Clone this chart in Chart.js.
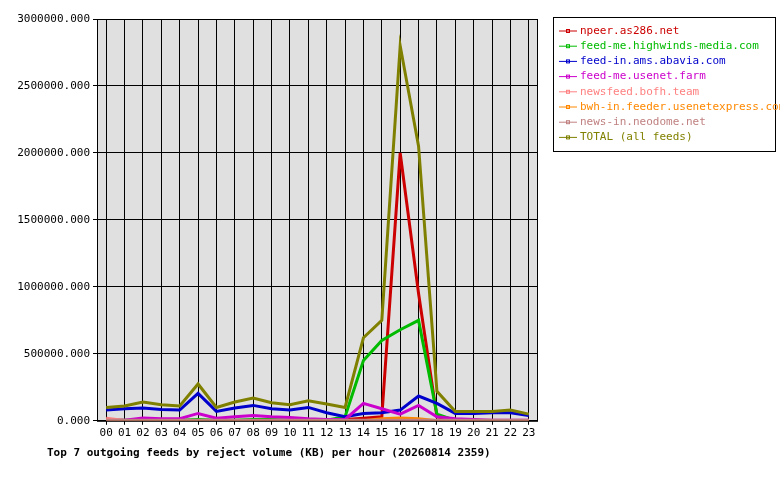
<!DOCTYPE html>
<html><head><meta charset="utf-8">
<script src="https://cdn.jsdelivr.net/npm/chart.js@4/dist/chart.umd.min.js"></script>
<style>html,body{margin:0;padding:0;background:#fff}#w{width:780px;height:480px}</style>
</head><body><div id="w"><canvas id="c"></canvas></div>
<script>
const hours = ["00","01","02","03","04","05","06","07","08","09","10","11","12","13","14","15","16","17","18","19","20","21","22","23"];
const seriesNames = ["npeer.as286.net","feed-me.highwinds-media.com","feed-in.ams.abavia.com","feed-me.usenet.farm","newsfeed.bofh.team","bwh-in.feeder.usenetexpress.com","news-in.neodome.net","TOTAL (all feeds)"];
const seriesColors = ["#cc0000","#00bb00","#0000cc","#cc00cc","#ff8080","#ff8800","#c08080","#808000"];
const npeer    = [0,0,0,0,0,0,0,0,0,0,0,0,10000,10000,20000,30000,2000000,950000,30000,0,0,0,0,0];
const highwinds= [5000,5000,5000,5000,5000,10000,5000,5000,10000,10000,5000,5000,5000,30000,450000,600000,680000,750000,50000,2000,2000,2000,2000,2000];
const abavia   = [80000,90000,95000,85000,80000,205000,70000,95000,115000,90000,80000,100000,60000,30000,55000,60000,80000,185000,130000,55000,55000,60000,60000,40000];
const usenetFarm=[5000,5000,20000,15000,15000,55000,20000,30000,40000,30000,25000,15000,10000,10000,130000,90000,50000,115000,30000,15000,10000,5000,5000,5000];
const bofh     = [20000,2000,2000,2000,2000,2000,2000,2000,2000,2000,2000,2000,2000,2000,2000,2000,2000,2000,2000,2000,2000,2000,2000,2000];
const bwh      = [0,0,0,0,0,0,0,0,0,0,0,0,0,0,0,15000,20000,15000,0,0,0,0,0,0];
const neodome  = [5000,5000,5000,5000,5000,5000,5000,5000,5000,5000,5000,5000,5000,5000,5000,5000,5000,5000,5000,5000,5000,5000,5000,5000];
const total    = [100000,110000,140000,120000,110000,275000,100000,140000,170000,135000,120000,150000,125000,100000,620000,750000,2800000,2050000,220000,70000,70000,70000,80000,50000];
const allData = [npeer,highwinds,abavia,usenetFarm,bofh,bwh,neodome,total];
const FONT = "'DejaVu Sans Mono', monospace";

const bgPlugin = {id:'bg', beforeDraw(ch){const a=ch.chartArea,c=ch.ctx;c.save();c.fillStyle='#e0e0e0';c.fillRect(a.left,a.top,a.right-a.left,a.bottom-a.top);c.restore();},
 afterDraw(ch){const a=ch.chartArea,c=ch.ctx;c.save();c.strokeStyle='#000';c.lineWidth=1;c.strokeRect(a.left+0.5,a.top+0.5,a.right-a.left-1,a.bottom-a.top);
  // legend box
  const x=553,y=17,w=222,h=134;c.fillStyle='#fff';c.fillRect(x,y,w,h);c.strokeRect(x+0.5,y+0.5,w,h);
  c.font='11px '+FONT;c.textBaseline='middle';
  ch.data.datasets.forEach((d,i)=>{const yy=y+14+i*15.2;c.strokeStyle=d.borderColor;c.beginPath();c.moveTo(x+6,yy);c.lineTo(x+24,yy);c.stroke();c.strokeRect(x+13.5,yy-1.5,3,3);c.fillStyle=d.borderColor;c.fillText(d.label,x+27,yy);});
  c.fillStyle='#000';c.font='bold 11px '+FONT;c.textBaseline='alphabetic';c.fillText('Top 7 outgoing feeds by reject volume (KB) per hour (20260814 2359)',47,456);
  c.restore();}};

new Chart(document.getElementById('c'),{type:'line',
 data:{labels:hours,datasets:allData.map((d,i)=>({label:seriesNames[i],data:d,borderColor:seriesColors[i],backgroundColor:seriesColors[i],borderWidth:3,pointRadius:0,tension:0,order:-i}))},
 options:{responsive:true,maintainAspectRatio:false,animation:false,
  layout:{padding:{left:0,right:242,top:19,bottom:38}},
  plugins:{legend:{display:false},tooltip:{enabled:false}},
  scales:{
   x:{offset:true,grid:{offset:false,color:'#000',drawTicks:true,tickLength:4},border:{display:false},ticks:{color:'#000',font:{family:FONT,size:11},maxRotation:0,autoSkip:false,padding:2}},
   y:{min:0,max:3000000,afterFit(s){s.width=97;},grid:{color:'#000',tickLength:4},border:{display:false},ticks:{stepSize:500000,color:'#000',font:{family:FONT,size:11},callback:v=>v.toFixed(3)}}
  }}, plugins:[bgPlugin]});
</script></body></html>
